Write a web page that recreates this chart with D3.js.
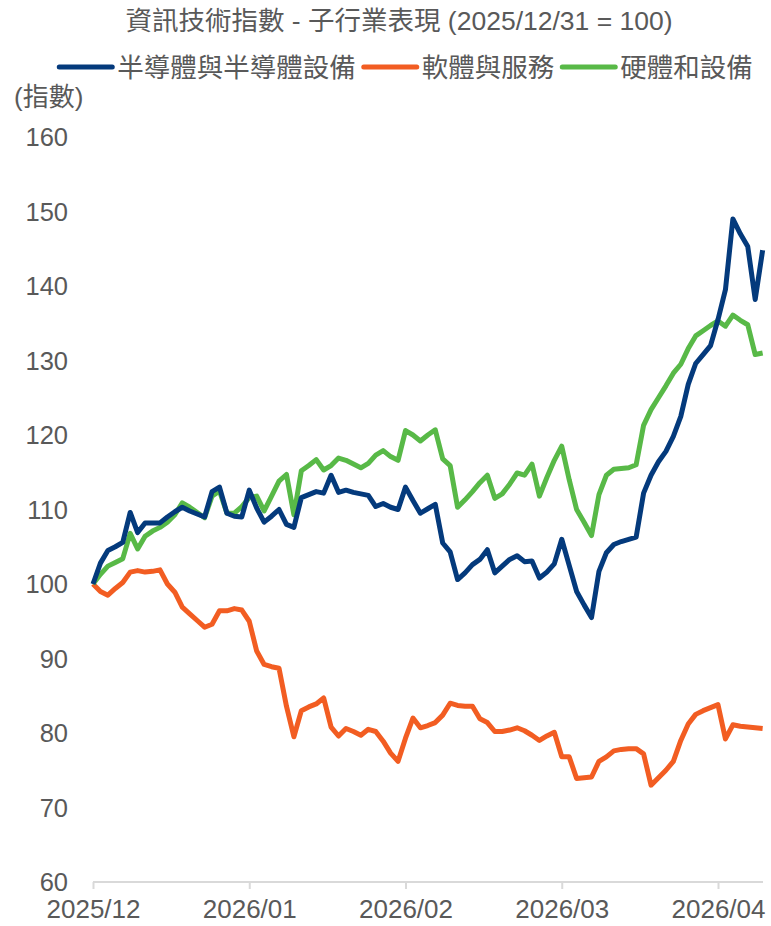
<!DOCTYPE html>
<html>
<head>
<meta charset="utf-8">
<script src="https://cdn.jsdelivr.net/npm/d3@7"></script>
<style>
  body { margin: 0; background: #fff; }
  text { font-family: "Liberation Sans", Arial, "Noto Sans CJK TC", sans-serif; fill: #595959; }
</style>
</head>
<body>
<div id="chart"></div>
<script>
// Chart data (index 0 = 2025/12/31 = 100)
var seriesNames = ['半導體與半導體設備', '軟體與服務', '硬體和設備'];
var seriesColors = ['#043a7c', '#f25d22', '#58b947'];

var semi = [100.0, 102.8, 104.5, 105.0, 105.6, 109.6, 106.9, 108.2, 108.2, 108.2,
            109.0, 109.7, 110.3, 109.8, 109.4, 109.0, 112.4, 113.0, 109.5, 109.1,
            109.0, 112.6, 110.2, 108.3, 109.1, 110.0, 108.0, 107.6, 111.6, 112.0,
            112.4, 112.2, 114.6, 112.3, 112.6, 112.3, 112.1, 111.9, 110.4, 110.8,
            110.3, 110.0, 113.0, 111.2, 109.5, 110.1, 110.7, 105.5, 104.3, 100.6,
            101.5, 102.6, 103.3, 104.6, 101.5, 102.4, 103.3, 103.8, 103.0, 103.1,
            100.8, 101.6, 102.7, 106.0, 102.5, 99.0, 97.2, 95.5, 101.7, 104.2,
            105.3, 105.7, 106.0, 106.3, 112.2, 114.6, 116.4, 117.8, 119.8, 122.5,
            126.8, 129.6, 130.8, 132.0, 135.5, 139.5, 149.0, 147.0, 145.3, 138.2,
            144.8];

var software = [100.0, 99.0, 98.5, 99.4, 100.2, 101.6, 101.8, 101.6, 101.7, 101.9,
                100.0, 98.9, 96.9, 96.0, 95.1, 94.2, 94.6, 96.4, 96.4, 96.7,
                96.5, 95.0, 91.0, 89.2, 88.9, 88.7, 83.6, 79.5, 83.0, 83.5,
                83.9, 84.7, 80.8, 79.6, 80.6, 80.2, 79.7, 80.5, 80.2, 78.9,
                77.3, 76.2, 79.3, 82.0, 80.7, 81.0, 81.4, 82.4, 84.0, 83.7,
                83.6, 83.6, 81.9, 81.4, 80.2, 80.2, 80.4, 80.7, 80.3, 79.7,
                79.0, 79.6, 80.1, 76.8, 76.8, 73.9, 74.0, 74.1, 76.2, 76.8,
                77.6, 77.8, 77.9, 77.9, 77.2, 73.0, 74.0, 75.0, 76.2, 79.0,
                81.2, 82.5, 83.0, 83.4, 83.8, 79.2, 81.1, 80.9, 80.8, 80.7,
                80.6];

var hardware = [100.0, 101.3, 102.4, 102.9, 103.4, 106.8, 104.7, 106.4, 107.1, 107.6,
                108.3, 109.3, 110.9, 110.3, 109.6, 108.9, 111.8, 112.5, 109.5, 109.5,
                110.4, 111.6, 111.8, 109.8, 111.8, 113.8, 114.7, 109.3, 115.2, 115.9,
                116.7, 115.3, 115.9, 116.9, 116.6, 116.1, 115.6, 116.2, 117.3, 117.9,
                117.1, 116.6, 120.6, 120.0, 119.2, 120.0, 120.7, 116.8, 115.9, 110.3,
                111.3, 112.4, 113.6, 114.6, 111.5, 112.1, 113.4, 114.9, 114.6, 116.1,
                111.8, 114.3, 116.6, 118.5, 114.0, 110.0, 108.3, 106.5, 112.0, 114.6,
                115.4, 115.5, 115.6, 116.0, 121.3, 123.4, 125.0, 126.6, 128.3, 129.5,
                131.6, 133.3, 134.0, 134.7, 135.3, 134.6, 136.1, 135.4, 134.8, 130.8,
                131.0];

var tickIndex = [0, 21, 42, 63, 84];
var tickLabels = ['2025/12', '2026/01', '2026/02', '2026/03', '2026/04'];
var yTicks = [60, 70, 80, 90, 100, 110, 120, 130, 140, 150, 160];

var chartTitle = '資訊技術指數 - 子行業表現 (2025/12/31 = 100)';
var yTitle = '(指數)';

// SVG variables
var W = 771, H = 926;
var margin = {top: 137, right: 8, bottom: 44, left: 93};
var svg = d3.select('#chart').append('svg')
    .attr('width', W)
    .attr('height', H);

var x = d3.scaleLinear().domain([0, 84]).range([margin.left, 718]);
var y = d3.scaleLinear().domain([60, 160]).range([H - margin.bottom, margin.top]);

// Title
svg.append('text')
    .attr('x', 399)
    .attr('y', 30)
    .attr('text-anchor', 'middle')
    .style('font-size', '26.5px')
    .text(chartTitle);

// Legend
var legend = svg.append('g');
var lx = 0;
seriesNames.forEach(function(name, i) {
    var g = legend.append('g').attr('transform', 'translate(' + lx + ',0)');
    g.append('line')
        .attr('x1', 2).attr('x2', 55)
        .attr('y1', 0).attr('y2', 0)
        .style('stroke', seriesColors[i])
        .style('stroke-width', 5)
        .style('stroke-linecap', 'round');
    var t = g.append('text')
        .attr('x', 60)
        .attr('y', 0)
        .attr('dy', '0.36em')
        .style('font-size', '26.5px')
        .text(name);
    lx += 60 + t.node().getComputedTextLength() + 6;
});
legend.attr('transform', 'translate(' + (405 - (lx - 6) / 2) + ',67)');

// Y axis title
svg.append('text')
    .attr('x', 14)
    .attr('y', 97)
    .attr('dy', '0.36em')
    .style('font-size', '26px')
    .text(yTitle);

// Y tick labels (no axis line)
svg.append('g')
    .selectAll('text')
    .data(yTicks)
    .enter().append('text')
    .attr('x', 68)
    .attr('y', function(d) { return y(d); })
    .attr('dy', '0.36em')
    .attr('text-anchor', 'end')
    .style('font-size', '25.5px')
    .text(function(d) { return d; });

// X axis
var xAxis = d3.axisBottom(x)
    .tickValues(tickIndex)
    .tickSize(7)
    .tickSizeOuter(0)
    .tickPadding(11)
    .tickFormat(function(d, i) { return tickLabels[i]; });

var xg = svg.append('g')
    .attr('transform', 'translate(0,' + y(60) + ')')
    .call(xAxis);
xg.select('.domain')
    .attr('d', 'M' + x(0) + ',0H763')
    .style('stroke', '#d9d9d9')
    .style('stroke-width', 2);
xg.selectAll('.tick line').style('stroke', '#d9d9d9').style('stroke-width', 2);
xg.selectAll('.tick text')
    .style('font-size', '26px')
    .style('font-family', '"Liberation Sans", Arial, sans-serif')
    .attr('fill', '#595959');

// Lines
var valueline = d3.line()
    .x(function(d, i) { return x(i); })
    .y(function(d) { return y(d); });

[software, hardware, semi].forEach(function(data) {
    var idx = data === semi ? 0 : (data === software ? 1 : 2);
    svg.append('path')
        .datum(data)
        .style('fill', 'none')
        .style('stroke', seriesColors[idx])
        .style('stroke-width', 5)
        .style('stroke-linejoin', 'round')
        .attr('d', valueline);
});
</script>
</body>
</html>
